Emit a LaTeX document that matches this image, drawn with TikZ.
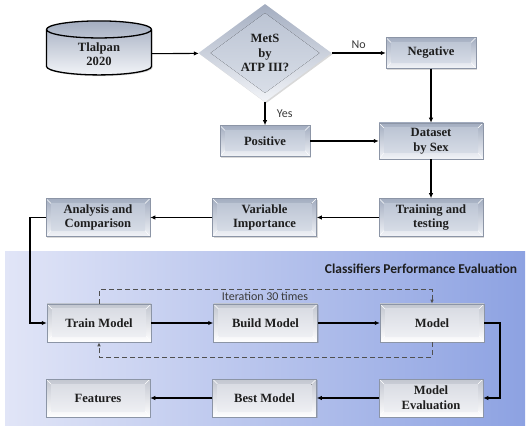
\documentclass[tikz,border=0pt]{standalone}
\usepackage{fontspec}
\setmainfont{Liberation Serif}
\newfontfamily\cali{Carlito}
\usepackage{tikz}
\usetikzlibrary{arrows.meta,positioning,calc,shapes.geometric,shadows}
\definecolor{ink}{HTML}{1E1E1E}
\definecolor{edge}{HTML}{8C95A6}
\definecolor{bxA}{HTML}{A3ADC0}
\definecolor{bxB}{HTML}{F2F4F8}
\definecolor{bxC}{HTML}{B8C1D1}
\definecolor{bxD}{HTML}{DCE1EA}
\definecolor{ebA}{HTML}{C2C6D0}
\definecolor{ebB}{HTML}{FFFFFF}
\definecolor{ebC}{HTML}{D6D9E1}
\definecolor{ebD}{HTML}{F2F3F6}
\definecolor{bgL}{HTML}{E1E5F7}
\definecolor{bgR}{HTML}{8DA2E2}
\definecolor{dashgray}{HTML}{505050}
\definecolor{notegray}{HTML}{3A3A3A}

\begin{document}
\begin{tikzpicture}[x=1pt,y=-1pt,
  lbl/.style={font=\fontsize{12.6}{14.6}\selectfont\bfseries,text=ink,align=center},
  bevel/.style n args={4}{top color=#1,bottom color=#2,path picture={
    \fill[top color=#3,bottom color=#4] ([shift={(5pt,-5pt)}]path picture bounding box.north west) coordinate (bi1) rectangle ([shift={(-5pt,6pt)}]path picture bounding box.south east) coordinate (bi2);
    \draw[white,line width=0.4pt] (path picture bounding box.north west) -- (bi1) (path picture bounding box.south east) -- (bi2)
      (path picture bounding box.north east) -- (bi1 -| bi2) (path picture bounding box.south west) -- (bi1 |- bi2);}},
  box/.style={lbl,rectangle,draw=edge,line width=0.5pt,minimum width=104pt,minimum height=38pt,inner sep=2pt,bevel={bxA}{bxB}{bxC}{bxD},drop shadow={shadow xshift=1.2pt,shadow yshift=-1.2pt,opacity=0.3}},
  ebox/.style={box,bevel={ebA}{ebB}{ebC}{ebD}},
  arr/.style={-{Latex[length=5pt,width=4.5pt]},line width=1.1pt,color=black},
  loopline/.style={arr,line width=1.8pt},
  iterline/.style={-{Latex[length=4pt,width=3.5pt]},dash pattern=on 5pt off 3pt,line width=0.8pt,color=dashgray},
  note/.style={font=\cali\fontsize{12}{14}\selectfont,text=notegray}]
  \useasboundingbox (0,0) rectangle (530,438);
  % evaluation region
  \fill[left color=bgL,right color=bgR] (5,252) rectangle (525,425);
  \node[font=\cali\bfseries\fontsize{13.5}{16}\selectfont,text=ink] (cpe) at (421,269) {Classifiers Performance Evaluation};
  % top part
  \node[cylinder,shape border rotate=90,shape aspect=0.35,draw=black,line width=1.3pt,minimum width=105pt,minimum height=54pt,top color=bxA,bottom color=bxB,lbl,drop shadow={shadow xshift=1.2pt,shadow yshift=-1.2pt,opacity=0.3}] (tlal) at (99,54) {Tlalpan\\2020};
  \node[diamond,aspect=1.36,inner sep=0pt,minimum width=133pt,minimum height=98pt,top color=bxA,bottom color=bxB,lbl,drop shadow={shadow xshift=1.2pt,shadow yshift=-1.2pt,opacity=0.3},
    path picture={\fill[top color=bxC,bottom color=bxD] ($(path picture bounding box.north)+(0,-9pt)$) -- ($(path picture bounding box.east)+(-12pt,0)$) -- ($(path picture bounding box.south)+(0,9pt)$) -- ($(path picture bounding box.west)+(12pt,0)$) -- cycle;}] (mets) at (265,53) {MetS\\by\\ATP III?};
  \node[box,minimum width=90pt,minimum height=31pt] (neg) at (431,53) {Negative};
  \node[box,minimum width=90pt,minimum height=31pt] (pos) at (265,141) {Positive};
  \node[box,minimum height=36pt] (dset) at (431,141) {Dataset\\by Sex};
  \node[box,below=39pt of dset] (tt) {Training and\\testing};
  \node[box,left=62pt of tt] (vimp) {Variable\\Importance};
  \node[box,left=62pt of vimp] (anc) {Analysis and\\Comparison};
  % classifiers
  \node[ebox] (trm) at (99,323) {Train Model};
  \node[ebox,right=62pt of trm] (bld) {Build Model};
  \node[ebox,right=62pt of bld] (mdl) {Model};
  \node[ebox] (meval) at (431,398) {Model\\Evaluation};
  \node[ebox,left=62pt of meval] (best) {Best Model};
  \node[ebox,left=62pt of best] (feat) {Features};
  \node[note] (iter) at (265,296) {Iteration 30 times};
  \draw[arr] (tlal) -- (mets);
  \draw[arr] (mets) -- node[note,above=1pt] {No} (neg);
  \draw[arr] (mets) -- node[note,right=8pt] {Yes} (pos);
  \draw[arr] (neg) -- (dset); \draw[arr] (pos) -- (dset);
  \draw[arr] (dset) -- (tt); \draw[arr] (tt) -- (vimp); \draw[arr] (vimp) -- (anc);
  \draw[loopline] (anc.west) -- ++(-16,0) |- (trm.west);
  \draw[arr] (trm) -- (bld); \draw[arr] (bld) -- (mdl);
  \draw[loopline] (mdl.east) -- ++(16,0) |- (meval.east);
  \draw[arr] (meval) -- (best); \draw[arr] (best) -- (feat);
  \draw[iterline] (trm.north) -- ++(0,-14) -| (mdl.north);
  \draw[iterline] (mdl.south) -- ++(0,15) -| (trm.south);
\end{tikzpicture}
\end{document}
